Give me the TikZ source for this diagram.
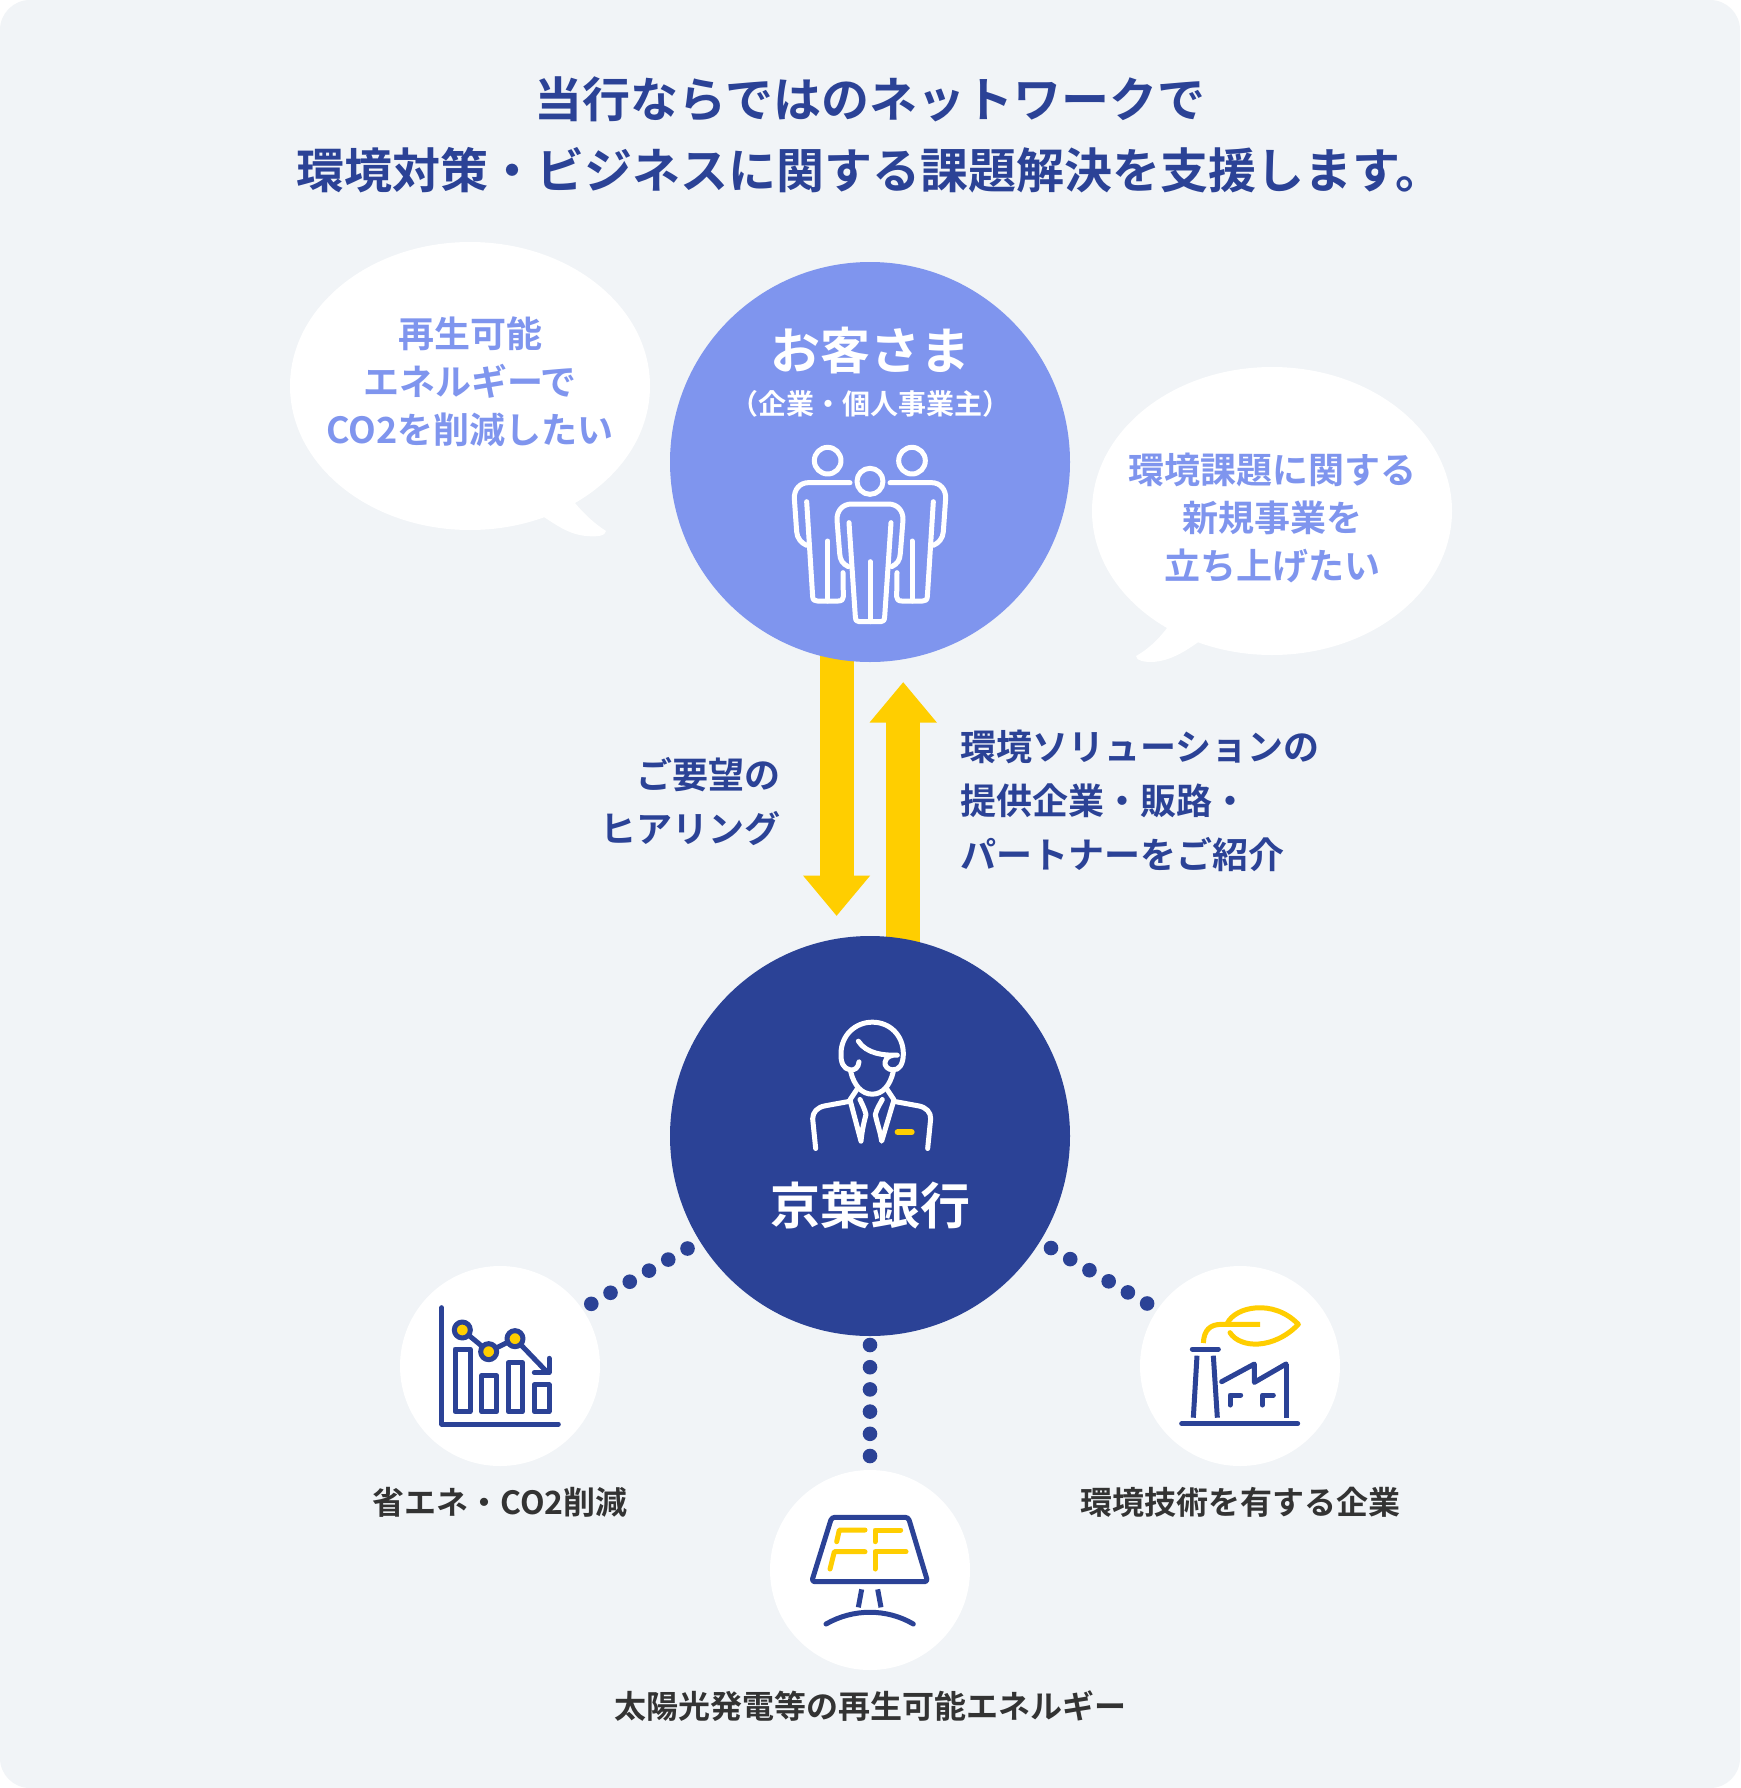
\documentclass[tikz,border=0pt]{standalone}
\usepackage{fontspec}
\setmainfont{Noto Sans CJK JP}[BoldFont={* Bold}]
\usetikzlibrary{arrows.meta,calc}
\definecolor{panelbg}{HTML}{F1F4F7}
\definecolor{peri}{HTML}{7F95EE}
\definecolor{navy}{HTML}{2B4296}
\definecolor{gold}{HTML}{FFCE00}
\definecolor{ink}{HTML}{333333}
\pgfdeclarelayer{deep}
\pgfdeclarelayer{under}
\pgfsetlayers{deep,under,main}
\newcommand{\fsz}[2]{\fontsize{#1}{#2}\selectfont\bfseries}
\tikzset{
  x=1pt,y=-1pt,
  bigdisc/.style={circle,minimum size=400pt,inner sep=0pt,fill=#1},
  smalldisc/.style={circle,minimum size=200pt,inner sep=0pt,fill=white},
  titletxt/.style={text=navy,align=center,inner sep=0pt,font=\fsz{48}{71}},
  bubbletxt/.style={text=peri,align=center,inner sep=0pt,font=\fsz{36}{48}},
  flowtxt/.style={text=navy,inner sep=0pt,font=\fsz{36}{54}},
  captxt/.style={text=ink,inner sep=0pt,font=\fsz{32}{40}},
  flow/.style={draw=gold,line width=34pt,-{Triangle[length=40.5pt,width=64.5pt]}},
  dotline/.style={draw=navy,line width=14.6pt,line cap=round,dash pattern=on 0pt off 22.2pt},
  icon/.style={line width=5pt,line cap=round,line join=round},
}
\begin{document}
\begin{tikzpicture}
\useasboundingbox (0,0) rectangle (1740,1788);
\begin{pgfonlayer}{deep}
\fill[white] (0,0) rectangle (1740,1788);
\fill[panelbg,rounded corners=30pt] (0,0) rectangle (1740,1788);
\end{pgfonlayer}

% title
\node[titletxt] (title) at (870,135) {当行ならではのネットワークで\\環境対策・ビジネスに関する課題解決を支援します。};

% big discs
\node[bigdisc=peri] (cust) at (870,462) {};
\node[bigdisc=navy] (bank) at (870,1136) {};

% arrows
\coordinate (dnA) at (836.6,620);
\coordinate (dnB) at (836.6,916);
\coordinate (upA) at (903.2,980);
\coordinate (upB) at (903.2,682);
\begin{pgfonlayer}{under}
\draw[flow] (dnA) -- (dnB);
\draw[flow] (upA) -- (upB);
\end{pgfonlayer}

% speech bubbles
\fill[white] (470,386) ellipse[x radius=180,y radius=144];
\fill[white] (565,505) -- (575,503) .. controls (584,514) and (595,524) .. (606,531)
  .. controls (606,536) and (596,537) .. (587,536) .. controls (570,535) and (556,525) .. (544,517) -- (530,500) -- cycle;
\fill[white] (1272,511) ellipse[x radius=180,y radius=144];
\fill[white] (1180,620) -- (1167,628) .. controls (1158,640) and (1147,650) .. (1136,656)
  .. controls (1136,661) and (1145,662) .. (1152,662) .. controls (1170,661) and (1184,652) .. (1197,643) -- (1210,630) -- cycle;
\node[bubbletxt] (bubA) at (470,381.5) {再生可能\\エネルギーで\\CO2を削減したい};
\node[bubbletxt] (bubB) at (1272,517.5) {環境課題に関する\\新規事業を\\立ち上げたい};

% disc labels
\node[text=white,inner sep=0pt,font=\fsz{50}{60}] (custT) at (870,351) {お客さま};
\node[text=white,inner sep=0pt,font=\fsz{28}{32}] (custS) at (870,403.5) {（企業・個人事業主）};
\node[text=white,inner sep=0pt,font=\fsz{50}{60}] (bankT) at (870,1206) {京葉銀行};

% flow labels
\node[flowtxt,align=right,anchor=east] (lblL) at (781,802) {ご要望の\\ヒアリング};
\node[flowtxt,align=left,anchor=west] (lblR) at (960,801) {環境ソリューションの\\提供企業・販路・\\パートナーをご紹介};

% customers icon
\begin{scope}[shift={(660,250)},x=0.33333pt,y=-0.33333pt,icon,draw=white]
\draw (503,632) circle[radius=40];
\draw (756,632) circle[radius=40];
\draw (630,694) circle[radius=39];
\draw (570,698) -- (445,698) .. controls (420,698) and (402,718) .. (403,745) -- (410,845) .. controls (411,865) and (425,880) .. (440,886);
\draw (440,755) -- (458,1040) .. controls (459,1050) and (463,1053) .. (472,1053) -- (535,1053) .. controls (545,1053) and (550,1048) .. (550,1040) -- (549,968);
\draw (503,873) -- (503,1053);
\draw (690,698) -- (815,698) .. controls (840,698) and (858,718) .. (857,745) -- (850,845) .. controls (849,865) and (835,880) .. (820,886);
\draw (820,755) -- (802,1040) .. controls (801,1050) and (797,1053) .. (788,1053) -- (725,1053) .. controls (715,1053) and (710,1048) .. (710,1040) -- (711,968);
\draw (756,873) -- (756,1053);
\draw (565,950) .. controls (548,942) and (540,930) .. (539,910) -- (531,810) .. controls (530,782) and (548,762) .. (575,762) -- (685,762) .. controls (712,762) and (730,782) .. (729,810) -- (721,910) .. controls (720,930) and (712,942) .. (695,950);
\draw (567,818) -- (586,1100) .. controls (587,1112) and (590,1115) .. (598,1115) -- (662,1115) .. controls (670,1115) and (673,1112) .. (674,1100) -- (693,818);
\draw (630,935) -- (630,1115);
\end{scope}

% banker icon
\begin{scope}[shift={(760,990.5)},x=0.33333pt,y=-0.33333pt,icon,draw=white]
\draw (297,214) .. controls (295,232) and (285,240) .. (270,238) .. controls (250,235) and (242,215) .. (243,190)
  .. controls (243,135) and (285,95) .. (337,95) .. controls (390,95) and (430,135) .. (430,190)
  .. controls (430,220) and (418,240) .. (398,238) .. controls (383,238) and (373,225) .. (375,215) .. controls (378,198) and (395,192) .. (412,194)
  .. controls (370,195) and (320,190) .. (295,152);
\draw (272,243) .. controls (282,285) and (305,311) .. (337,311) .. controls (368,311) and (390,285) .. (400,243);
\draw (292,295) -- (270,328) -- (303,452) .. controls (306,420) and (312,395) .. (318,372) .. controls (314,355) and (306,340) .. (300,327);
\draw (380,295) -- (402,328) -- (365,452) .. controls (360,420) and (350,395) .. (346,372) .. controls (350,355) and (360,340) .. (367,327);
\draw (266,333) -- (195,346) .. controls (172,350) and (158,365) .. (158,385) -- (167,474);
\draw (404,333) -- (475,346) .. controls (498,350) and (513,365) .. (512,385) -- (503,474);
\draw[gold,line width=6pt] (413,425) -- (455,425);
\end{scope}

% small discs
\node[smalldisc] (dL) at (500,1366) {};
\node[smalldisc] (dM) at (870,1570) {};
\node[smalldisc] (dR) at (1240,1366) {};

% dotted connectors
\coordinate (lA) at (687.5,1248.5);
\coordinate (lB) at (591,1304);
\coordinate (mA) at (870,1345);
\coordinate (mB) at (870,1457);
\coordinate (rA) at (1051,1248);
\coordinate (rB) at (1148,1304);
\draw[dotline] (lA) -- (lB);
\draw[dotline] (mA) -- (mB);
\draw[dotline] (rA) -- (rB);

% chart icon
\begin{scope}[shift={(400,1260)},x=0.33333pt,y=-0.33333pt,icon,draw=navy]
\draw (125,143) -- (125,492) -- (475,492);
\draw (165,267) rectangle (210,455);
\draw (245,347) rectangle (290,455);
\draw (325,308) rectangle (367,455);
\draw (403,374) rectangle (447,455);
\draw (187,210) -- (266,275) -- (345,236) -- (440,335);
\draw (447,295) -- (447,338) -- (403,338);
\foreach \cx/\cy in {187/210,266/275,345/236}
  \draw[fill=gold] (\cx,\cy) circle[radius=24];
\end{scope}

% solar icon
\begin{scope}[shift={(770,1470)},x=0.33333pt,y=-0.33333pt,icon,draw=navy]
\draw[rounded corners=3pt] (185,142) -- (415,142) -- (473,335) -- (125,335) -- cycle;
\draw[gold] (200,215) -- (208,180) -- (285,180);
\draw[gold] (180,297) -- (193,245) -- (285,245);
\draw[gold] (315,215) -- (315,180) -- (392,180);
\draw[gold] (315,297) -- (315,245) -- (408,245);
\draw[line cap=butt] (275,358) -- (265,412);
\draw[line cap=butt] (323,358) -- (333,412);
\draw (168,462) .. controls (250,415) and (350,415) .. (430,462);
\end{scope}

% factory icon
\begin{scope}[shift={(1140,1260)},x=0.33333pt,y=-0.33333pt,icon,draw=navy]
\draw (125,491) -- (473,491);
\draw (157,267) -- (235,267);
\draw[line cap=butt] (171,287) -- (160,473);
\draw[line cap=butt] (220,287) -- (232,473);
\draw (245,365) -- (343,312) -- (343,367) -- (438,312);
\draw[line cap=butt] (438,312) -- (438,473);
\draw (270,435) -- (270,405) -- (302,405);
\draw (367,435) -- (367,405) -- (400,405);
\draw[gold,line cap=butt] (190,249) .. controls (192,210) and (210,193) .. (245,193) -- (360,193);
\draw[gold] (262,190) .. controls (285,140) and (400,115) .. (475,193) .. controls (400,270) and (300,265) .. (270,218);
\end{scope}

% captions
\node[captxt] (capL) at (500,1502) {省エネ・CO2削減};
\node[captxt] (capR) at (1240,1502) {環境技術を有する企業};
\node[captxt] (capM) at (870,1706) {太陽光発電等の再生可能エネルギー};
\end{tikzpicture}
\end{document}
